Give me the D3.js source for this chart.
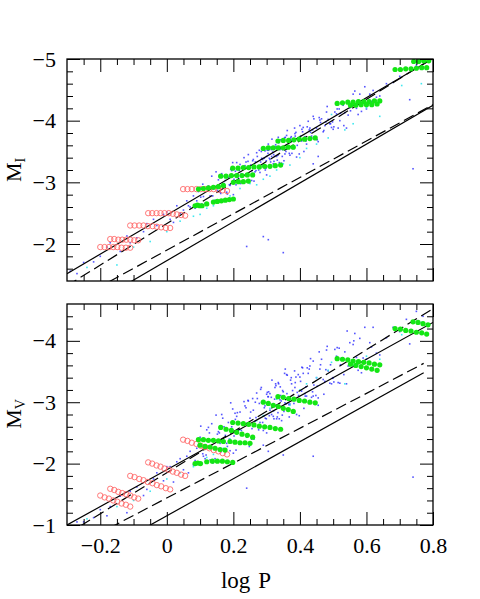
<!DOCTYPE html>
<html>
<head>
<meta charset="utf-8">
<script src="https://cdn.jsdelivr.net/npm/d3@7"></script>
<style>
body { margin: 0; background: #fff; }
svg text { font-family: "Liberation Serif", "DejaVu Serif", serif; }
</style>
</head>
<body>
<svg id="chart" width="480" height="599"></svg>
<script>
// ---- tick values ----
const xMajor = [-0.2, 0, 0.2, 0.4, 0.6, 0.8];
const xMinor = [-0.25, -0.15, -0.1, -0.05, 0.05, 0.1, 0.15, 0.25, 0.3, 0.35, 0.45, 0.5, 0.55, 0.65, 0.7, 0.75];
const yMajorI = [-5, -4, -3, -2];
const yMinorI = [-1.6, -1.8, -2.2, -2.4, -2.6, -2.8, -3.2, -3.4, -3.6, -3.8, -4.2, -4.4, -4.6, -4.8];
const yMajorV = [-4, -3, -2, -1];
const yMinorV = [-1.2, -1.4, -1.6, -1.8, -2.2, -2.4, -2.6, -2.8, -3.2, -3.4, -3.6, -3.8, -4.2, -4.4];

// ---- observed cepheids: [logP, M_I, M_V] ----
const blueStars = [
  [-0.29,-1.56,-0.95],[-0.27,-1.52,-1.05],[-0.22,-1.71,-1.12],[-0.17,-2.02,-1.30],[-0.14,-1.88,-1.47],
  [-0.12,-2.13,-1.20],[-0.09,-2.10,-1.62],[-0.06,-2.33,-1.58],[-0.03,-2.30,-1.85],[-0.01,-2.48,-1.72],
  [0.01,-2.40,-1.95],[0.03,-2.62,-2.03],[0.05,-2.55,-1.90],[0.06,-2.70,-2.12],[0.07,-2.60,-2.20],
  [0.08,-2.78,-1.98],[0.09,-2.70,-2.25],
  [-0.25,-1.70,-1.05],[-0.20,-1.80,-1.25],[-0.18,-1.95,-1.15],[-0.11,-2.02,-1.55],[-0.07,-2.20,-1.48],
  [-0.04,-2.40,-1.75],[0.0,-2.52,-1.95],[0.02,-2.35,-1.70],[0.04,-2.50,-2.08],[0.065,-2.62,-1.85],
  [0.085,-2.58,-2.05],[0.095,-2.85,-2.30],
  [0.10,-2.91,-2.43],[0.11,-2.77,-2.12],[0.115,-2.66,-2.08],[0.12,-2.90,-2.55],[0.13,-2.78,-2.06],
  [0.135,-3.10,-2.65],[0.14,-2.89,-2.37],[0.15,-2.70,-2.05],[0.155,-3.04,-2.52],[0.16,-2.84,-2.33],
  [0.165,-3.14,-2.80],[0.17,-2.94,-2.24],[0.18,-2.84,-2.33],[0.185,-3.08,-2.67],[0.19,-2.95,-2.21],
  [0.195,-3.19,-2.60],[0.20,-2.80,-2.17],[0.205,-3.12,-2.82],[0.21,-3.32,-2.77],[0.215,-3.07,-2.55],
  [0.22,-3.29,-2.84],[0.225,-3.13,-2.50],[0.23,-3.02,-2.47],[0.235,-3.27,-2.94],[0.24,-3.13,-2.43],
  [0.245,-3.45,-3.02],[0.25,-3.24,-2.74],[0.255,-3.03,-2.40],[0.26,-3.37,-2.87],[0.265,-3.17,-2.69],
  [0.27,-3.48,-3.15],[0.275,-3.27,-2.59],[0.28,-3.16,-2.67],[0.285,-3.39,-3.00],[0.29,-3.27,-2.54],
  [0.295,-3.51,-2.94],[0.30,-3.12,-2.50],[0.30,-3.42,-3.13],[0.305,-3.62,-3.09],[0.31,-3.37,-2.87],
  [0.31,-3.57,-3.14],[0.315,-3.42,-2.80],[0.32,-3.30,-2.77],[0.325,-3.55,-3.24],[0.33,-3.42,-2.73],
  [0.335,-3.73,-3.32],[0.34,-3.53,-3.04],[0.345,-3.31,-2.70],[0.35,-3.66,-3.17],[0.355,-3.46,-2.99],
  [0.36,-3.76,-3.45],[0.365,-3.56,-2.89],[0.37,-3.44,-2.97],[0.375,-3.68,-3.30],[0.38,-3.55,-2.84],
  [0.385,-3.79,-3.24],[0.39,-3.41,-2.80],[0.395,-3.72,-3.45],[0.40,-3.92,-3.41],[0.405,-3.67,-3.18],
  [0.41,-3.89,-3.47],[0.415,-3.74,-3.14],[0.42,-3.62,-3.10],[0.43,-3.88,-3.59],[0.435,-3.75,-3.08],
  [0.44,-4.07,-3.67],[0.45,-3.88,-3.40],[0.455,-3.66,-3.07],[0.46,-4.01,-3.54],[0.47,-3.82,-3.37],
  [0.48,-4.14,-3.85],[0.49,-3.95,-3.31],[0.50,-3.86,-3.40],[0.51,-4.11,-3.75],[0.52,-4.00,-3.31],
  [0.53,-4.25,-3.72],[0.54,-3.88,-3.30],[0.55,-4.21,-3.97],[0.56,-4.43,-3.94],[0.57,-4.20,-3.73],
  [0.58,-4.43,-4.04],[0.59,-4.29,-3.72],[0.60,-4.19,-3.70],[0.62,-4.49,-4.22],[0.64,-4.40,-3.77],
  [0.105,-2.65,-2.00],[0.125,-2.94,-2.59],[0.145,-2.71,-2.08],[0.158,-3.11,-2.50],[0.172,-2.98,-2.60],
  [0.188,-2.96,-2.40],[0.198,-3.32,-2.89],[0.208,-2.96,-2.22],[0.218,-3.19,-2.66],[0.228,-3.10,-2.46],
  [0.238,-3.33,-2.91],[0.248,-2.99,-2.28],[0.258,-3.35,-3.06],[0.268,-3.19,-2.75],[0.278,-3.52,-2.98],
  [0.288,-3.37,-2.67],[0.298,-3.23,-2.61],[0.302,-3.52,-3.16],[0.308,-3.39,-2.78],[0.318,-3.49,-2.95],
  [0.322,-3.34,-2.73],[0.328,-3.58,-3.27],[0.338,-3.32,-2.73],[0.342,-3.69,-3.11],[0.348,-3.53,-3.19],
  [0.358,-3.50,-2.97],[0.362,-3.84,-3.44],[0.368,-3.47,-2.76],[0.378,-3.70,-3.19],[0.382,-3.59,-2.98],
  [0.388,-3.81,-3.41],[0.398,-3.46,-2.78],[0.408,-3.82,-3.56],[0.418,-3.67,-3.25],[0.425,-3.99,-3.47],
  [0.438,-3.85,-3.17],[0.448,-3.70,-3.11],[0.465,-4.03,-3.70],[0.475,-3.92,-3.34],[0.485,-4.02,-3.51],
  [0.495,-3.89,-3.30],[0.505,-4.14,-3.86],[0.515,-3.88,-3.32],[0.525,-4.27,-3.72],[0.535,-4.13,-3.82],
  [0.545,-4.09,-3.59],[0.565,-4.48,-4.12],[0.585,-4.15,-3.48],[0.61,-4.43,-3.97],[0.63,-4.38,-3.80],
  [0.102,-2.76,-2.61],[0.108,-2.97,-2.16],[0.118,-2.63,-2.14],[0.128,-2.92,-2.50],[0.138,-2.78,-2.01],
  [0.148,-3.17,-2.79],[0.152,-2.87,-2.48],[0.162,-2.82,-2.19],[0.168,-3.10,-2.74],[0.176,-3.03,-2.46],
  [0.182,-2.81,-2.28],[0.192,-3.21,-2.99],[0.202,-3.05,-2.45],[0.212,-3.21,-2.83],[0.222,-2.98,-2.34],
  [0.232,-3.40,-3.01],[0.242,-3.13,-2.66],[0.252,-3.28,-2.84],[0.262,-3.02,-2.40],[0.272,-3.42,-3.06],
  [0.282,-3.33,-3.21],[0.292,-3.56,-2.78],[0.296,-3.20,-2.74],[0.304,-3.47,-3.09],[0.312,-3.33,-2.59],
  [0.316,-3.70,-3.36],[0.324,-3.42,-3.05],[0.332,-3.36,-2.76],[0.336,-3.64,-3.30],[0.344,-3.56,-3.02],
  [0.352,-3.35,-2.85],[0.356,-3.73,-3.54],[0.364,-3.56,-2.99],[0.372,-3.72,-3.36],[0.376,-3.47,-2.86],
  [0.384,-3.88,-3.51],[0.392,-3.60,-3.16],[0.402,-3.75,-3.34],[0.412,-3.50,-2.90],[0.422,-3.90,-3.56],
  [0.432,-3.81,-3.71],[0.442,-4.03,-3.28],[0.452,-3.69,-3.26],[0.462,-3.97,-3.61],[0.472,-3.84,-3.13],
  [0.482,-4.23,-3.91],[0.492,-3.95,-3.61],[0.502,-3.90,-3.33],[0.512,-4.19,-3.89],[0.522,-4.12,-3.61],
  [0.532,-3.92,-3.45],[0.542,-4.32,-4.16],[0.552,-4.16,-3.61],[0.562,-4.32,-4.00],[0.575,-4.10,-3.52],
  [0.595,-4.55,-4.22],[0.615,-4.31,-3.90],
  [0.206,-3.18,-2.72],[0.224,-3.14,-2.54],[0.244,-3.34,-3.03],[0.256,-3.19,-2.57],[0.266,-3.33,-3.00],
  [0.276,-3.20,-2.55],[0.284,-3.50,-3.24],[0.293,-3.39,-2.91],[0.299,-3.35,-2.73],[0.306,-3.52,-3.17],
  [0.314,-3.53,-3.08],[0.321,-3.45,-2.86],[0.327,-3.61,-3.30],[0.334,-3.44,-2.83],[0.341,-3.57,-3.25],
  [0.347,-3.42,-2.79],[0.354,-3.72,-3.47],[0.361,-3.60,-3.14],[0.367,-3.56,-2.96],[0.374,-3.74,-3.40],
  [0.386,-3.75,-3.32],[0.396,-3.69,-3.11],[0.406,-3.86,-3.57],[0.416,-3.70,-3.10],[0.428,-3.85,-3.54],
  [0.44,-3.72,-3.10],[0.458,-4.05,-3.82],[0.478,-3.98,-3.53],[0.498,-3.98,-3.39],[0.518,-4.19,-3.88],
  [0.66,-4.60,-4.05],[0.68,-4.62,-4.22],[0.70,-4.72,-4.15],[0.72,-4.85,-4.35],[0.75,-4.90,-4.48],
  [0.77,-4.95,-4.40],[0.74,-3.22,-1.78],[0.29,-2.12,-2.30],[0.305,-2.07,-2.20],[0.35,-1.86,-2.14],
  [0.44,-3.30,-2.12],[0.455,-3.42,-2.95],[0.73,-4.34,-3.95],[0.24,-1.96,-1.60]
];
const cyanStars = [
  [-0.24,-1.62,-1.10],[-0.15,-1.66,-1.30],[-0.10,-1.95,-1.40],[-0.05,-2.04,-1.55],[0.0,-2.20,-1.75],
  [0.04,-2.37,-1.85],[0.08,-2.45,-1.95],[0.10,-2.48,-2.00],[0.12,-2.58,-2.10],[0.14,-2.62,-2.15],
  [0.17,-2.70,-2.25],[0.19,-2.78,-2.40],[0.22,-2.90,-2.55],[0.25,-2.98,-2.62],[0.27,-2.96,-2.70],
  [0.29,-3.05,-2.78],[0.31,-3.10,-2.90],[0.33,-3.20,-3.05],[0.35,-3.30,-3.10],[0.37,-3.28,-2.95],
  [0.40,-3.40,-3.20],[0.42,-3.55,-3.30],[0.45,-3.62,-3.40],[0.485,-3.72,-3.52],[0.495,-4.10,-3.65],
  [0.535,-3.85,-3.30],[0.56,-3.95,-3.60],[0.60,-4.21,-3.75],[0.64,-4.07,-3.70],[0.706,-4.57,-4.10],
  [0.765,-4.60,-4.30]
];

// ---- model sequences ----
// red open circles: [logP, M_I, M_V]
const redModels = [
  [0.049,-2.89,-2.39],[0.062,-2.89,-2.37],[0.075,-2.89,-2.34],[0.089,-2.89,-2.32],[0.102,-2.89,-2.29],
  [0.115,-2.89,-2.27],[0.128,-2.89,-2.25],[0.141,-2.89,-2.22],[0.155,-2.88,-2.20],[0.168,-2.87,-2.17],
  [0.181,-2.86,-2.15],
  [-0.056,-2.50,-2.02],[-0.044,-2.50,-2.00],[-0.031,-2.50,-1.97],[-0.019,-2.50,-1.95],[-0.007,-2.50,-1.92],
  [0.006,-2.50,-1.90],[0.018,-2.49,-1.87],[0.030,-2.48,-1.85],[0.043,-2.47,-1.82],[0.055,-2.46,-1.80],
  [-0.110,-2.30,-1.80],[-0.097,-2.30,-1.78],[-0.083,-2.30,-1.75],[-0.070,-2.30,-1.73],[-0.057,-2.29,-1.70],
  [-0.043,-2.29,-1.68],[-0.030,-2.28,-1.65],[-0.017,-2.27,-1.63],[-0.003,-2.26,-1.60],[0.010,-2.26,-1.58],
  [-0.170,-2.08,-1.59],[-0.158,-2.08,-1.57],[-0.146,-2.07,-1.54],[-0.134,-2.07,-1.52],[-0.122,-2.07,-1.50],
  [-0.110,-2.07,-1.48],[-0.098,-2.06,-1.45],[-0.086,-2.06,-1.43],
  [-0.200,-1.95,-1.48],[-0.187,-1.95,-1.45],[-0.174,-1.95,-1.43],[-0.161,-1.95,-1.40],[-0.149,-1.95,-1.38],
  [-0.136,-1.94,-1.35],[-0.123,-1.94,-1.33],[-0.110,-1.94,-1.30]
];
// green filled dots, I band: [logP, M_I]
const greenI = [
  [0.742,-4.96],[0.757,-4.96],[0.772,-4.97],[0.787,-4.97],
  [0.686,-4.83],[0.702,-4.83],[0.718,-4.84],[0.734,-4.84],[0.750,-4.85],[0.766,-4.86],[0.781,-4.86],
  [0.512,-4.28],[0.528,-4.29],[0.544,-4.30],[0.560,-4.30],[0.576,-4.31],[0.592,-4.31],[0.608,-4.31],[0.624,-4.32],[0.640,-4.32],
  [0.552,-4.25],[0.568,-4.25],[0.584,-4.26],[0.600,-4.26],[0.616,-4.26],[0.632,-4.27],
  [0.334,-3.67],[0.350,-3.68],[0.366,-3.68],[0.382,-3.69],[0.398,-3.70],[0.414,-3.70],[0.430,-3.71],[0.446,-3.72],
  [0.290,-3.55],[0.305,-3.56],[0.320,-3.56],[0.335,-3.56],[0.350,-3.56],[0.365,-3.57],[0.380,-3.57],
  [0.198,-3.23],[0.214,-3.23],[0.230,-3.24],[0.246,-3.24],[0.262,-3.25],[0.278,-3.25],[0.294,-3.26],[0.310,-3.26],[0.326,-3.27],[0.342,-3.28],
  [0.162,-3.10],[0.178,-3.10],[0.194,-3.11],[0.210,-3.11],[0.226,-3.11],[0.242,-3.12],[0.258,-3.12],
  [0.200,-3.00],[0.215,-3.01],[0.230,-3.01],[0.245,-3.02],
  [0.095,-2.89],[0.110,-2.90],[0.125,-2.91],[0.140,-2.92],[0.155,-2.93],[0.170,-2.95],
  [0.140,-2.68],[0.152,-2.69],[0.164,-2.70],[0.176,-2.71],[0.188,-2.72],[0.200,-2.73],
  [0.085,-2.62],[0.092,-2.63],[0.099,-2.62],[0.106,-2.62],[0.120,-2.65]
];
// green filled dots, V band: [logP, M_V]
const greenV = [
  [0.740,-4.31],[0.755,-4.30],[0.770,-4.28],[0.785,-4.26],
  [0.686,-4.20],[0.702,-4.19],[0.718,-4.17],[0.734,-4.16],[0.750,-4.14],[0.766,-4.13],[0.781,-4.11],
  [0.512,-3.71],[0.528,-3.70],[0.544,-3.69],[0.560,-3.67],[0.576,-3.66],[0.592,-3.65],[0.608,-3.64],[0.624,-3.62],[0.640,-3.61],
  [0.552,-3.62],[0.568,-3.60],[0.584,-3.58],[0.600,-3.56],[0.616,-3.54],[0.632,-3.52],
  [0.334,-3.09],[0.350,-3.08],[0.366,-3.06],[0.382,-3.05],[0.398,-3.03],[0.414,-3.02],[0.430,-3.00],[0.446,-2.99],
  [0.290,-3.00],[0.305,-2.98],[0.320,-2.95],[0.335,-2.93],[0.350,-2.90],[0.365,-2.88],[0.380,-2.85],
  [0.198,-2.67],[0.214,-2.66],[0.230,-2.65],[0.246,-2.64],[0.262,-2.63],[0.278,-2.61],[0.294,-2.60],[0.310,-2.59],[0.326,-2.57],[0.342,-2.56],
  [0.162,-2.59],[0.178,-2.56],[0.194,-2.54],[0.210,-2.51],[0.226,-2.48],[0.242,-2.46],[0.258,-2.43],
  [0.095,-2.39],[0.110,-2.39],[0.125,-2.38],[0.140,-2.38],[0.155,-2.37],[0.170,-2.36],[0.190,-2.36],[0.205,-2.35],[0.220,-2.34],[0.235,-2.34],[0.250,-2.33],
  [0.100,-2.30],[0.115,-2.28],[0.130,-2.27],[0.145,-2.25],[0.160,-2.23],[0.175,-2.22],
  [0.085,-2.00],[0.093,-2.01],[0.101,-2.00],[0.120,-2.03],[0.137,-2.04],[0.152,-2.04],[0.167,-2.04],[0.182,-2.03],[0.198,-2.02]
];

// ---- PL relations: [zero point, slope, logP end] ----
const solidI = [[-2.47, -3.17, 0.8], [-1.73, -3.15, 0.8]];
const dashedI = [[-2.33, -3.36, 0.8], [-1.90, -2.95, 0.8]];
const solidV = [[-1.90, -3.00, 0.8], [-1.15, -3.02, 0.772]];
const dashedV = [[-1.852, -3.34, 0.8], [-1.44, -2.84, 0.772]];

const FONT = "Liberation Serif, DejaVu Serif, serif";
const svg = d3.select("#chart");
const x = d3.scaleLinear().domain([-0.3, 0.8]).range([67, 433]);
const yI = d3.scaleLinear().domain([-1.4, -5]).range([281, 59]);
const yV = d3.scaleLinear().domain([-1, -4.6]).range([525, 304]);

const fmtX = d => d === 0 ? "0" : d3.format(".1f")(d);
const fmtY = d3.format("d");

function drawPanel(id, y, col, green, solid, dashed, yMajor, yMinor, showX) {
  const x0 = x.range()[0], x1 = x.range()[1];
  const yTop = y.range()[1], yBot = y.range()[0];
  const g = svg.append("g");

  g.append("clipPath").attr("id", id)
    .append("rect").attr("x", x0).attr("y", yTop).attr("width", x1 - x0).attr("height", yBot - yTop);
  const plot = g.append("g").attr("clip-path", `url(#${id})`);

  plot.selectAll(".blue").data(blueStars).join("rect")
    .attr("x", d => x(d[0]) - 0.8).attr("y", d => y(d[col]) - 0.8)
    .attr("width", 1.6).attr("height", 1.6).attr("fill", "#2a2aff").attr("opacity", 0.8);
  plot.selectAll(".cyan").data(cyanStars).join("rect")
    .attr("x", d => x(d[0]) - 0.8).attr("y", d => y(d[col]) - 0.8)
    .attr("width", 1.6).attr("height", 1.6).attr("fill", "#40e8f0");

  const line = (rel) => d3.line()([[x(-0.3), y(rel[0] - 0.3 * rel[1])], [x(rel[2]), y(rel[0] + rel[2] * rel[1])]]);
  plot.selectAll(".solid").data(solid).join("path")
    .attr("d", line).attr("fill", "none").attr("stroke", "#000").attr("stroke-width", 1.2);
  plot.selectAll(".dashed").data(dashed).join("path")
    .attr("d", line).attr("fill", "none").attr("stroke", "#000").attr("stroke-width", 1.2)
    .attr("stroke-dasharray", "11,5");

  plot.selectAll(".red").data(redModels).join("circle")
    .attr("cx", d => x(d[0])).attr("cy", d => y(d[col]))
    .attr("r", 2.7).attr("fill", "none").attr("stroke", "#ff6a6a").attr("stroke-width", 0.9);
  plot.selectAll(".green").data(green).join("circle")
    .attr("cx", d => x(d[0])).attr("cy", d => y(d[1]))
    .attr("r", 2.6).attr("fill", "#14e614");

  const style = ax => {
    ax.select(".domain").remove();
    ax.attr("font-family", FONT).attr("font-size", 22);
    ax.selectAll("line").attr("stroke", "#000").attr("stroke-width", 1);
    ax.selectAll("text").attr("fill", "#000");
  };
  // left
  g.append("g").attr("transform", `translate(${x0},0)`)
    .call(d3.axisLeft(y).tickValues(yMajor).tickSize(-13).tickPadding(11).tickFormat(fmtY)).call(style);
  g.append("g").attr("transform", `translate(${x0},0)`)
    .call(d3.axisLeft(y).tickValues(yMinor).tickSize(-6).tickFormat("")).call(style);
  // right
  g.append("g").attr("transform", `translate(${x1},0)`)
    .call(d3.axisRight(y).tickValues(yMajor).tickSize(-13).tickFormat("")).call(style);
  g.append("g").attr("transform", `translate(${x1},0)`)
    .call(d3.axisRight(y).tickValues(yMinor).tickSize(-6).tickFormat("")).call(style);
  // top
  g.append("g").attr("transform", `translate(0,${yTop})`)
    .call(d3.axisTop(x).tickValues(xMajor).tickSize(-13).tickFormat("")).call(style);
  g.append("g").attr("transform", `translate(0,${yTop})`)
    .call(d3.axisTop(x).tickValues(xMinor).tickSize(-6).tickFormat("")).call(style);
  // bottom
  g.append("g").attr("transform", `translate(0,${yBot})`)
    .call(d3.axisBottom(x).tickValues(xMajor).tickSize(-13).tickPadding(12).tickFormat(showX ? fmtX : "")).call(style);
  g.append("g").attr("transform", `translate(0,${yBot})`)
    .call(d3.axisBottom(x).tickValues(xMinor).tickSize(-6).tickFormat("")).call(style);

  g.append("rect").attr("x", x0).attr("y", yTop).attr("width", x1 - x0).attr("height", yBot - yTop)
    .attr("fill", "none").attr("stroke", "#000").attr("stroke-width", 1.3);
}

drawPanel("clipI", yI, 1, greenI, solidI, dashedI, yMajorI, yMinorI, false);
drawPanel("clipV", yV, 2, greenV, solidV, dashedV, yMajorV, yMinorV, true);

// axis titles
function yTitle(cy, sub) {
  const t = svg.append("text").attr("transform", `translate(21,${cy}) rotate(-90)`)
    .attr("text-anchor", "middle").attr("font-family", FONT).attr("font-size", 22);
  t.append("tspan").text("M");
  t.append("tspan").attr("font-size", 14).attr("dy", 4).text(sub);
}
yTitle(170, "I");
yTitle(414, "V");
const xt = svg.append("text").attr("x", 246).attr("y", 588).attr("text-anchor", "middle")
  .attr("font-family", FONT).attr("font-size", 23);
xt.append("tspan").text("log");
xt.append("tspan").attr("dx", 8).text("P");
</script>
</body>
</html>
